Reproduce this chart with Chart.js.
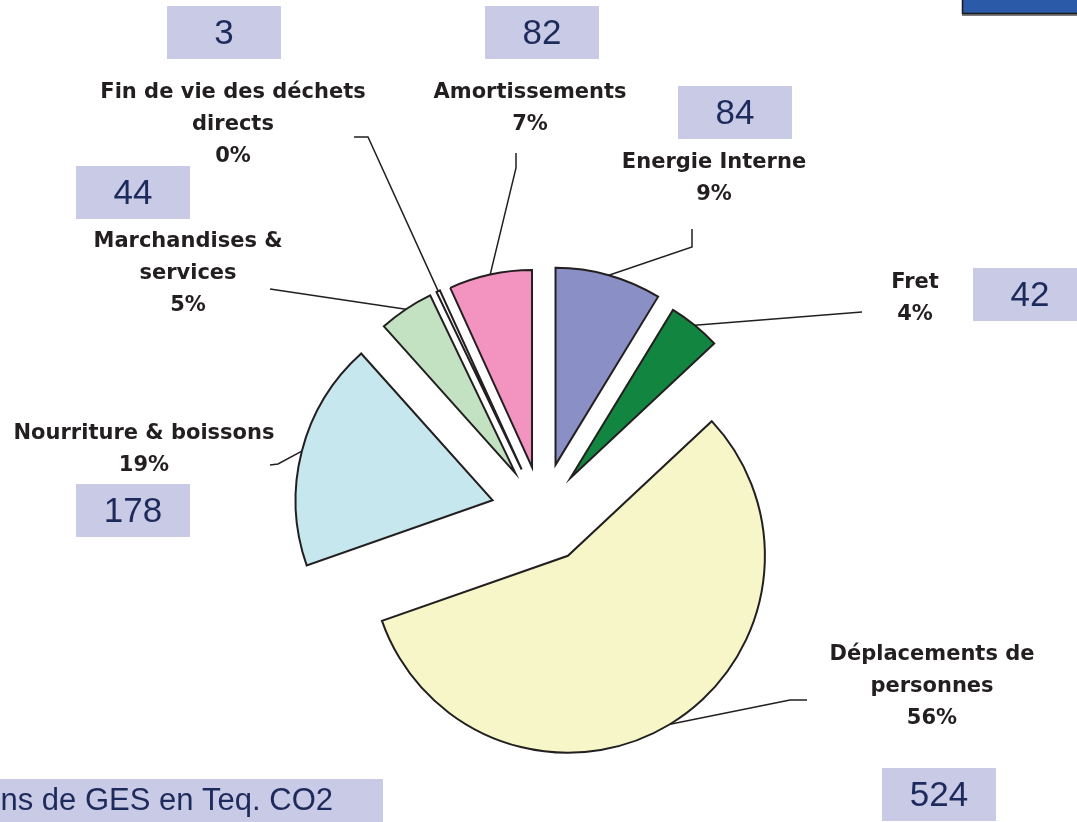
<!DOCTYPE html>
<html>
<head>
<meta charset="utf-8">
<script src="https://cdn.jsdelivr.net/npm/chart.js@4.4.1/dist/chart.umd.min.js"></script>
<style>
  html, body { margin: 0; padding: 0; background: #fff; overflow: hidden; }
  #wrap { position: relative; width: 1077px; height: 822px; }
</style>
</head>
<body>
<div id="wrap"><canvas id="chart" width="1077" height="822"></canvas></div>
<script>
// slices, clockwise from 12 o'clock
const categories = [
  "Energie Interne",
  "Fret",
  "Déplacements de personnes",
  "Nourriture & boissons",
  "Marchandises & services",
  "Fin de vie des déchets directs",
  "Amortissements",
];
const shares = [8.7, 4.3, 56.5, 18.7, 4.5, 0.3, 6.8];
const percentLabels = ["9%", "4%", "56%", "19%", "5%", "0%", "7%"];
const emissions = [84, 42, 524, 178, 44, 3, 82];
const labelLines = [
  ["Energie Interne"],
  ["Fret"],
  ["Déplacements de", "personnes"],
  ["Nourriture & boissons"],
  ["Marchandises &", "services"],
  ["Fin de vie des déchets", "directs"],
  ["Amortissements"],
];
const unitTitle = "Emissions de GES en Teq. CO2";

// layout / style
const sliceColors = ["#8a8fc6", "#128540", "#f6f6c9", "#c6e7ee", "#c2e2c2", "#ffffff", "#f394c0"];
const explode = [50, 45, 50, 51, 48, 48, 47];
const labelPos = [[714, 168], [915, 288], [932, 660], [144, 439], [188, 247], [233, 98], [530, 98]];
const leaderPts = [
  [[692, 229], [692, 247]],
  [[862, 312]],
  [[807, 700], [790, 700]],
  [[270, 465], [278, 464]],
  [[270, 289]],
  [[354, 137], [368, 137]],
  [[516, 153], [516, 168]],
];
const boxPos = [[678, 86], [973, 268], [882, 768], [76, 484], [76, 166], [167, 6], [485, 6]];
const boxW = 114;
const boxH = 53;
const boxFill = "#c9cae6";
const boxText = "#1d2b5c";
const inkColor = "#231f20";

const explodePlugin = {
  id: "explode",
  afterDatasetUpdate(chart, args) {
    args.meta.data.forEach((arc, i) => {
      const mid = (arc.startAngle + arc.endAngle) / 2;
      arc.x += Math.cos(mid) * explode[i];
      arc.y += Math.sin(mid) * explode[i];
    });
  },
};

const annotPlugin = {
  id: "annot",
  afterDraw(chart) {
    const c = chart.ctx;
    const arcs = chart.getDatasetMeta(0).data;
    c.save();

    // leader lines
    c.strokeStyle = inkColor;
    c.lineWidth = 1.5;
    arcs.forEach((arc, i) => {
      const mid = (arc.startAngle + arc.endAngle) / 2;
      const px = arc.x + Math.cos(mid) * arc.outerRadius;
      const py = arc.y + Math.sin(mid) * arc.outerRadius;
      const pts = leaderPts[i];
      c.beginPath();
      c.moveTo(pts[0][0], pts[0][1]);
      for (let k = 1; k < pts.length; k++) c.lineTo(pts[k][0], pts[k][1]);
      c.lineTo(px, py);
      c.stroke();
    });

    // category labels
    c.fillStyle = inkColor;
    c.font = "bold 21px 'DejaVu Sans'";
    c.textAlign = "center";
    c.textBaseline = "alphabetic";
    labelLines.forEach((lines, i) => {
      const all = lines.concat([percentLabels[i]]);
      all.forEach((t, k) => {
        c.fillText(t, labelPos[i][0], labelPos[i][1] + k * 32);
      });
    });

    // value boxes
    c.font = "35px 'Liberation Sans', Arial, sans-serif";
    c.textBaseline = "middle";
    emissions.forEach((v, i) => {
      const [bx, by] = boxPos[i];
      c.fillStyle = boxFill;
      c.fillRect(bx, by, boxW, boxH);
      c.fillStyle = boxText;
      c.fillText(String(v), bx + boxW / 2, by + boxH / 2 + 2);
    });

    // unit box, bottom left (cut by the frame)
    c.fillStyle = boxFill;
    c.fillRect(0, 779, 383, 43);
    c.fillStyle = boxText;
    c.font = "31px 'Liberation Sans', Arial, sans-serif";
    c.textAlign = "right";
    c.textBaseline = "alphabetic";
    c.fillText(unitTitle, 333, 810);

    // blue tab, top right
    c.fillStyle = "#7d7d7d";
    c.fillRect(962, 13, 115, 3);
    c.fillStyle = "#2a5aa8";
    c.fillRect(962, 0, 115, 13);
    c.strokeStyle = "#1a1a1a";
    c.lineWidth = 1.5;
    c.beginPath();
    c.moveTo(962.5, 0);
    c.lineTo(962.5, 13.5);
    c.lineTo(1077, 13.5);
    c.stroke();

    c.restore();
  },
};

new Chart(document.getElementById("chart").getContext("2d"), {
  type: "pie",
  data: {
    labels: categories,
    datasets: [
      {
        data: shares,
        backgroundColor: sliceColors,
        borderColor: inkColor,
        borderWidth: 2,
        borderJoinStyle: "miter",
        hoverOffset: 0,
      },
    ],
  },
  options: {
    responsive: false,
    animation: false,
    radius: 197,
    layout: { padding: { left: 7, right: 0, top: 204, bottom: 0 } },
    plugins: {
      legend: { display: false },
      tooltip: { enabled: true },
    },
  },
  plugins: [explodePlugin, annotPlugin],
});
</script>
</body>
</html>
